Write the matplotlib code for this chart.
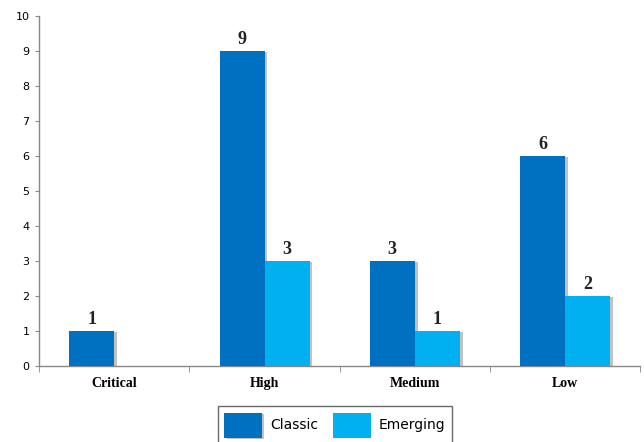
import numpy as np
import matplotlib.pyplot as plt
import matplotlib.patheffects as pe

categories = ['Critical', 'High', 'Medium', 'Low']
classic = [1, 9, 3, 6]
emerging = [0, 3, 1, 2]

classic_color = '#0070C0'
emerging_color = '#00B0F0'

fig = plt.figure(figsize=(6.44, 4.42), dpi=100)
ax = fig.add_axes([0.061, 0.172, 0.933, 0.792])

x = np.arange(len(categories))
w = 0.3
shadow = [pe.SimplePatchShadow(offset=(2, -1), shadow_rgbFace='#999999', alpha=0.6), pe.Normal()]

b1 = ax.bar(x - w / 2, classic, w, color=classic_color, label='Classic', zorder=3)
b2 = ax.bar(x + w / 2, emerging, w, color=emerging_color, label='Emerging', zorder=3)
for b in list(b1) + list(b2):
    if b.get_height() > 0:
        b.set_path_effects(shadow)

# value labels above bars
for bars, vals in [(b1, classic), (b2, emerging)]:
    for b, v in zip(bars, vals):
        if v > 0:
            ax.text(b.get_x() + b.get_width() / 2, v + 0.08, str(v), ha='center', va='bottom',
                    fontsize=13, fontweight='bold', family='Liberation Serif', color='#222222')

ax.set_xlim(-0.5, len(categories) - 0.5)
ax.set_ylim(0, 10)
ax.set_yticks(range(0, 11))
ax.tick_params(axis='y', labelsize=8, length=3, color='#888888', pad=4)
ax.set_xticks(x)
ax.set_xticklabels(categories, fontsize=10, fontweight='bold', family='Liberation Serif')
ax.tick_params(axis='x', length=0, pad=8)
ax.set_xticks(np.arange(-0.5, len(categories)), minor=True)
ax.tick_params(axis='x', which='minor', length=4, color='#888888')

for s in ['top', 'right']:
    ax.spines[s].set_visible(False)
for s in ['left', 'bottom']:
    ax.spines[s].set_color('#888888')
    ax.spines[s].set_linewidth(1.0)

leg = fig.legend(loc='lower center', bbox_to_anchor=(0.52, -0.02), ncol=2, fontsize=10,
                 frameon=True, fancybox=False, edgecolor='#444444', handlelength=2.7,
                 handleheight=2.4, handletextpad=0.6, columnspacing=1.1, borderpad=0.45)
leg.get_frame().set_linewidth(1.0)

fig.savefig('out.png', dpi=100)
